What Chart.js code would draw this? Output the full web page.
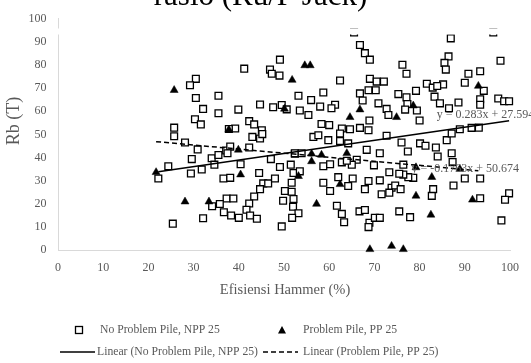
<!DOCTYPE html>
<html>
<head>
<meta charset="utf-8">
<script src="https://cdn.jsdelivr.net/npm/chart.js@4.4.1/dist/chart.umd.min.js"></script>
<style>
  html, body { margin: 0; padding: 0; background: #fff; }
  canvas { display: block; }
</style>
</head>
<body>
<canvas id="chart" width="531" height="363"></canvas>
<script>
// Rb (T) against hammer efficiency (%), piles without and with problems
const nppX = [
  49.1, 41.2, 46.9, 49.0, 47.3, 30.5, 29.2, 30.5, 35.5, 32.1, 35.5, 39.9, 44.7, 47.6, 49.5, 30.3, 31.6, 25.7, 39.2, 42.3, 43.4, 45.1, 50.6, 37.8,
  25.7, 28.1, 30.9, 43.0, 44.7, 45.2, 37.2, 38.1, 42.3, 34.0, 35.5, 37.5, 29.6, 34.6, 24.4, 40.4, 47.1, 52.4, 49.1, 51.5, 22.2, 29.4, 31.8, 36.6,
  38.1, 44.5, 45.4, 46.5, 48.0, 44.7, 43.4, 34.1, 37.3, 38.8, 35.8, 42.3, 41.7, 36.7, 38.3, 40.0, 42.5, 44.0, 32.1, 25.4, 52.1,
  65.5, 96.3, 86.9, 66.8, 67.9, 69.0, 86.4, 85.5, 85.8, 97.9, 76.2, 77.1, 62.4, 69.0, 70.5, 72.1, 66.8, 68.7, 70.3, 67.4, 58.7, 53.2, 56.0, 61.3,
  60.5, 58.0, 53.5, 55.4, 70.9, 72.7, 75.3, 77.1, 79.2, 81.6, 82.9, 85.2, 83.9, 83.3, 84.5, 86.5, 88.6, 77.3, 79.4, 76.8, 68.9, 73.1, 90.0, 90.8,
  93.4, 94.2, 93.4, 93.4, 97.4, 98.7, 99.8,
  58.3, 60.0, 64.6, 66.8, 68.7, 62.8, 56.5, 57.6, 62.4, 59.8, 62.4, 64.2, 72.7, 76.0, 77.4, 80.1, 81.3, 83.6, 84.0, 86.0, 87.1, 88.9, 91.5, 93.1,
  87.1, 87.3, 90.0, 93.4, 87.5, 99.8, 98.9, 93.4, 98.1, 83.0, 82.7, 78.6, 77.5, 76.4, 75.5, 73.3, 73.8, 74.6, 75.8, 71.6, 73.3, 75.5, 77.9, 71.2,
  68.7, 67.9, 65.2, 64.2, 62.0, 58.7, 60.2, 61.7, 62.8, 63.3, 66.7, 67.9, 68.9, 68.7, 70.1, 71.2, 68.3, 71.2, 66.1, 69.9, 65.0, 58.7, 60.2, 62.8,
  63.9, 52.4, 53.9, 52.1, 53.5, 51.7, 50.2, 51.7, 49.8, 52.0, 53.2, 51.8, 49.5, 76.4, 80.0
];
const nppY = [
  82.3, 78.4, 78.0, 75.4, 76.2, 74.0, 71.2, 65.7, 66.7, 61.0, 59.1, 60.7, 62.9, 61.7, 62.7, 56.5, 54.3, 52.9, 52.5, 55.7, 54.3, 51.8, 60.8, 52.3,
  49.2, 46.5, 43.5, 48.9, 48.2, 50.1, 43.0, 44.7, 44.3, 39.7, 41.1, 41.8, 39.3, 36.9, 36.2, 37.1, 39.3, 41.6, 35.9, 36.9, 30.9, 33.1, 34.8, 30.9,
  31.2, 33.3, 28.8, 28.8, 30.9, 26.3, 23.1, 18.9, 22.3, 22.3, 19.9, 20.1, 17.4, 16.3, 14.9, 13.9, 14.9, 13.5, 13.7, 11.4, 22.0,
  94.0, 94.0, 91.5, 88.6, 85.1, 82.3, 83.7, 80.9, 78.0, 81.8, 80.1, 76.2, 73.3, 74.0, 72.8, 72.8, 67.7, 69.1, 69.1, 64.6, 68.1, 66.7, 64.8, 62.8,
  61.3, 62.0, 60.3, 58.4, 63.4, 61.0, 67.4, 66.0, 68.8, 71.9, 70.2, 71.6, 70.9, 66.3, 63.4, 61.3, 63.8, 63.1, 60.3, 60.7, 56.0, 58.4, 72.3, 76.2,
  77.3, 68.8, 65.2, 62.8, 65.5, 64.3, 64.3,
  54.5, 54.0, 52.2, 52.8, 51.8, 52.5, 48.9, 49.6, 50.4, 47.5, 47.1, 46.1, 49.4, 46.5, 42.6, 46.1, 45.1, 44.3, 40.4, 47.5, 50.4, 52.2, 52.8, 52.9,
  41.8, 38.0, 30.9, 30.9, 27.9, 24.5, 21.7, 22.4, 12.8, 26.3, 23.4, 31.2, 31.5, 32.6, 33.0, 33.6, 26.9, 27.9, 26.3, 24.1, 24.8, 16.7, 14.2, 30.1,
  29.8, 26.3, 30.9, 27.7, 31.5, 29.1, 25.5, 19.1, 15.6, 12.0, 16.7, 17.3, 11.8, 9.9, 13.9, 13.9, 43.3, 41.8, 39.0, 36.6, 36.9, 36.2, 37.1, 37.9,
  38.6, 41.8, 41.8, 33.3, 34.0, 29.1, 25.5, 25.2, 21.3, 18.7, 15.9, 13.9, 10.2, 36.9, 56.0
];
const ppX = [
  25.7, 51.8, 50.1, 37.8, 21.7, 40.4, 39.9, 28.1, 33.4, 54.6, 55.8, 78.6, 74.9, 64.6, 66.8, 93.0,
  88.9, 91.7, 82.7, 79.2, 79.2, 82.5, 62.4, 57.2, 63.9, 58.3, 56.1, 56.1, 53.2, 69.0, 73.8, 76.4
];
const ppY = [
  69.1, 73.5, 61.0, 52.0, 33.6, 32.6, 43.3, 20.9, 20.9, 79.8, 79.8, 62.4, 57.4, 57.4, 60.7, 70.9,
  35.0, 21.7, 31.5, 35.7, 23.4, 15.2, 28.4, 19.9, 41.8, 41.1, 38.3, 41.6, 31.9, 0.3, 1.7, 0.3
];

// Linear trend lines: [No Problem Pile, Problem Pile]
const trendSlopes = [0.283, -0.1763];
const trendIntercepts = [27.594, 50.674];
const trendLabelX = [83.8, 78.2];
const trendLabelY = [58.3, 35.3];

const xTickValues = [0, 10, 20, 30, 40, 50, 60, 70, 80, 90, 100];
const yTickValues = [0, 10, 20, 30, 40, 50, 60, 70, 80, 90, 100];

const seriesNames = ['No Problem Pile, NPP 25', 'Problem Pile, PP 25'];
const trendNames = ['Linear (No Problem Pile, NPP 25)', 'Linear (Problem Pile, PP 25)'];
const chartTitle = 'rasio (Ru/P Jack)';
const xTitle = 'Efisiensi Hammer (%)';
const yTitle = 'Rb (T)';

const SERIF = '"Liberation Serif", "Times New Roman", serif';
const GREY = '#595959';

const toPoints = (xs, ys) => xs.map((x, i) => ({ x: x, y: ys[i] }));
function trendPoints(k, xs) {
  const lo = Math.min(...xs), hi = Math.max(...xs);
  return [lo, hi].map(x => ({ x: x, y: trendSlopes[k] * x + trendIntercepts[k] }));
}
function equationText(k) {
  const s = trendSlopes[k], b = trendIntercepts[k];
  return 'y = ' + (s < 0 ? '-' : '') + Math.abs(s) + 'x ' + (b < 0 ? '- ' : '+ ') + Math.abs(b).toFixed(3);
}

const overlay = {
  id: 'overlay',
  afterDraw(chart) {
    const ctx = chart.ctx;
    const xs = chart.scales.x, ys = chart.scales.y;
    ctx.save();

    // trend line equations
    ctx.font = '12px ' + SERIF;
    ctx.fillStyle = GREY;
    ctx.textAlign = 'left';
    ctx.textBaseline = 'middle';
    for (let k = 0; k < 2; k++) {
      ctx.fillText(equationText(k), xs.getPixelForValue(trendLabelX[k]), ys.getPixelForValue(trendLabelY[k]));
    }

    // white strip under the title block
    ctx.fillStyle = '#fff';
    ctx.fillRect(0, 28.5, chart.width, 6);

    // chart title
    ctx.font = '31px ' + SERIF;
    ctx.fillStyle = '#000';
    ctx.textAlign = 'center';
    ctx.textBaseline = 'alphabetic';
    ctx.fillText(chartTitle, 260.5, 4.5);

    // axis titles
    ctx.fillStyle = GREY;
    ctx.font = '14.5px ' + SERIF;
    ctx.textBaseline = 'middle';
    ctx.fillText(xTitle, 285, 290);
    ctx.save();
    ctx.translate(14, 121);
    ctx.rotate(-Math.PI / 2);
    ctx.font = '18px ' + SERIF;
    ctx.fillText(yTitle, 0, 0);
    ctx.restore();

    // legend
    ctx.font = '11.7px ' + SERIF;
    ctx.textAlign = 'left';
    ctx.fillStyle = GREY;
    ctx.fillText(seriesNames[0], 100, 330);
    ctx.fillText(seriesNames[1], 303, 330);
    ctx.fillText(trendNames[0], 97, 352);
    ctx.fillText(trendNames[1], 303, 352);

    ctx.strokeStyle = '#000';
    ctx.lineWidth = 1.3;
    ctx.fillStyle = '#fff';
    ctx.fillRect(75.5, 326.5, 7, 7);
    ctx.strokeRect(75.5, 326.5, 7, 7);

    ctx.fillStyle = '#000';
    ctx.beginPath();
    ctx.moveTo(282, 326);
    ctx.lineTo(286, 333.5);
    ctx.lineTo(278, 333.5);
    ctx.closePath();
    ctx.fill();

    ctx.lineWidth = 1.5;
    ctx.beginPath();
    ctx.moveTo(60, 352);
    ctx.lineTo(95, 352);
    ctx.stroke();
    ctx.setLineDash([5, 3]);
    ctx.beginPath();
    ctx.moveTo(263, 352);
    ctx.lineTo(298, 352);
    ctx.stroke();
    ctx.restore();
  }
};

new Chart(document.getElementById('chart'), {
  type: 'scatter',
  data: {
    datasets: [
      {
        label: trendNames[0],
        type: 'line',
        data: trendPoints(0, nppX),
        borderColor: '#000',
        borderWidth: 1.5,
        pointRadius: 0,
        fill: false,
        order: 1
      },
      {
        label: trendNames[1],
        type: 'line',
        data: trendPoints(1, ppX),
        borderColor: '#000',
        borderWidth: 1.5,
        borderDash: [5, 3],
        pointRadius: 0,
        fill: false,
        order: 2
      },
      {
        label: seriesNames[1],
        data: toPoints(ppX, ppY),
        pointStyle: 'triangle',
        pointRadius: 4.6,
        pointBackgroundColor: '#000',
        pointBorderColor: '#000',
        pointBorderWidth: 0.5,
        clip: false,
        order: 3
      },
      {
        label: seriesNames[0],
        data: toPoints(nppX, nppY),
        pointStyle: 'rect',
        pointRadius: 4.8,
        pointBackgroundColor: '#fff',
        pointBorderColor: '#000',
        pointBorderWidth: 1.3,
        clip: false,
        order: 4
      }
    ]
  },
  options: {
    responsive: false,
    animation: false,
    devicePixelRatio: 1,
    layout: { padding: { left: 0, right: 21, top: 15, bottom: 83 } },
    plugins: {
      legend: { display: false },
      title: { display: false },
      tooltip: { enabled: false }
    },
    scales: {
      x: {
        type: 'linear',
        min: 0,
        max: 100,
        afterBuildTicks: s => { s.ticks = xTickValues.map(v => ({ value: v })); },
        afterFit: s => { s.height = 30; },
        grid: { display: false, drawTicks: false },
        border: { display: true, color: '#d9d9d9', width: 1 },
        ticks: { color: GREY, font: { family: SERIF, size: 12 }, padding: 11, maxRotation: 0 }
      },
      y: {
        type: 'linear',
        min: 0,
        max: 100,
        afterBuildTicks: s => { s.ticks = yTickValues.map(v => ({ value: v })); },
        afterFit: s => { s.width = 58; },
        grid: { display: false, drawTicks: false },
        border: { display: true, color: '#d9d9d9', width: 1 },
        ticks: { color: GREY, font: { family: SERIF, size: 12 }, padding: 11.5 }
      }
    }
  },
  plugins: [overlay]
});
</script>
</body>
</html>
